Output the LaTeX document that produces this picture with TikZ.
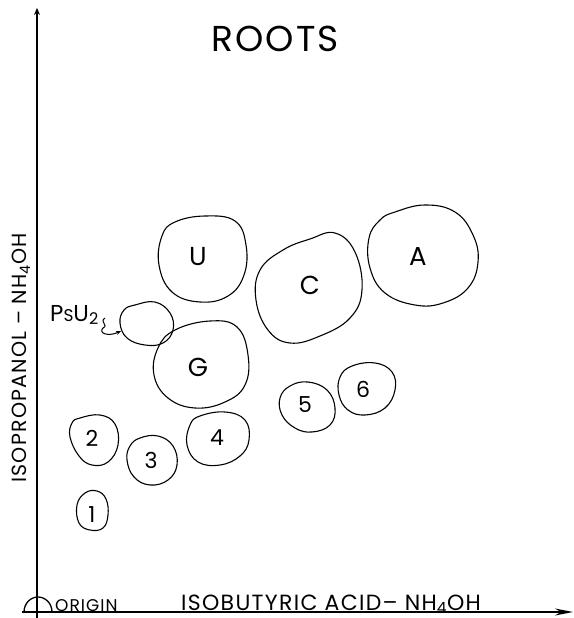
\documentclass[tikz,border=0pt]{standalone}
\usepackage{fontspec}
\setmainfont{Poppins}
\newfontfamily\lettering[LetterSpace=6]{Poppins}
\usetikzlibrary{arrows.meta}
\begin{document}
\begin{tikzpicture}[x=1pt,y=-1pt,
  spot/.style={line width=1.1pt, line join=round},
  axis/.style={line width=1.6pt},
  spotlabel/.style={inner sep=0pt, font=\lettering\fontsize{26}{26}\selectfont},
  numlabel/.style={inner sep=0pt, font=\lettering\fontsize{22}{22}\selectfont}]
\useasboundingbox (0,0) rectangle (573,618);
% axes
\coordinate (ybot) at (37,618);
\coordinate (ytop) at (37,8);
\coordinate (xleft) at (22,612);
\coordinate (xright) at (573,612);
\draw[axis,-{Stealth[length=7pt,width=6pt]}] (ybot) -- (ytop);
\draw[axis,-{Stealth[length=18pt,width=7pt]}] (xleft) -- (xright);
\draw[line width=1.3pt] (24,612) arc[start angle=180,end angle=0,x radius=14,y radius=-15];
% labels
\node[anchor=base, inner sep=0pt, font=\lettering\fontsize{36}{36}\selectfont] (title) at (275,52) {ROOTS};
\node[anchor=base west, inner sep=0pt, font=\lettering\fontsize{17}{17}\selectfont] (origin) at (55,611) {ORIGIN};
\node[anchor=base, inner sep=0pt, font=\lettering\fontsize{22}{22}\selectfont] (xlab) at (331,610) {ISOBUTYRIC ACID– NH\textsubscript{4}OH};
\node[anchor=base, rotate=90, inner sep=0pt, font=\lettering\fontsize{20.5}{20.5}\selectfont] (ylab) at (27,358) {ISOPROPANOL – NH\textsubscript{4}OH};
% spots
\draw[spot] plot[smooth cycle, tension=0.7] coordinates {(175,222) (205,216) (235,221) (246,245) (244,275) (228,296) (200,302) (172,292) (159,265) (162,236)};
\node[spotlabel] (U) at (198,257) {U};
\draw[spot] plot[smooth cycle, tension=0.7] coordinates {(335,233) (355,252) (362,290) (350,318) (320,336) (290,343) (268,330) (256,300) (260,270) (283,250) (310,239)};
\node[spotlabel] (C) at (310,285) {C};
\draw[spot] plot[smooth cycle, tension=0.7] coordinates {(395,212) (425,205) (455,212) (473,235) (478,262) (468,288) (443,303) (415,305) (385,293) (370,268) (369,238) (380,220)};
\node[spotlabel] (A) at (418,256) {A};
\draw[spot] plot[smooth cycle, tension=0.7] coordinates {(175,330) (210,321) (237,327) (248,355) (245,385) (225,402) (195,408) (168,398) (154,375) (158,348)};
\node[spotlabel] (G) at (198,367) {G};
\draw[spot] plot[smooth cycle, tension=0.7] coordinates {(135,305) (155,302) (170,313) (173,330) (163,343) (145,345) (127,338) (120,323) (124,310)};
\coordinate (psuin) at (121,331);
\node[anchor=base west, inner sep=0pt, font=\lettering\fontsize{23}{23}\selectfont] (psu) at (50,321) {P{\fontsize{17}{17}\selectfont S}U\textsubscript{2}};
\coordinate (sq0) at (105,318);
\draw[line width=1pt,-{Stealth[length=5pt,width=4pt]}] (sq0) .. controls (99,322) and (109,325) .. (103,328) .. controls (98,333) and (108,337) .. (psuin);
\draw[spot] plot[smooth cycle, tension=0.7] coordinates {(80,418) (100,415) (115,424) (118,445) (108,462) (92,465) (79,456) (70,437) (72,423)};
\node[numlabel] (n2) at (92,438) {2};
\draw[spot] plot[smooth cycle, tension=0.7] coordinates {(140,438) (158,436) (173,446) (177,465) (168,480) (150,485) (134,477) (127,460) (130,446)};
\node[numlabel] (n3) at (151,460) {3};
\draw[spot] plot[smooth cycle, tension=0.7] coordinates {(85,493) (97,491) (106,499) (108,515) (103,528) (90,530) (79,523) (77,505)};
\node[numlabel] (n1) at (92,515) {1};
\draw[spot] plot[smooth cycle, tension=0.7] coordinates {(200,416) (225,412) (245,420) (249,440) (240,456) (220,465) (198,462) (187,445) (190,425)};
\node[numlabel] (n4) at (217,438) {4};
\draw[spot] plot[smooth cycle, tension=0.7] coordinates {(290,386) (308,382) (327,390) (335,408) (330,425) (312,432) (295,428) (282,415) (280,398)};
\node[numlabel] (n5) at (305,405) {5};
\draw[spot] plot[smooth cycle, tension=0.7] coordinates {(352,366) (375,363) (392,372) (395,390) (385,408) (365,415) (348,410) (339,395) (340,377)};
\node[numlabel] (n6) at (363,389) {6};
\end{tikzpicture}
\end{document}
